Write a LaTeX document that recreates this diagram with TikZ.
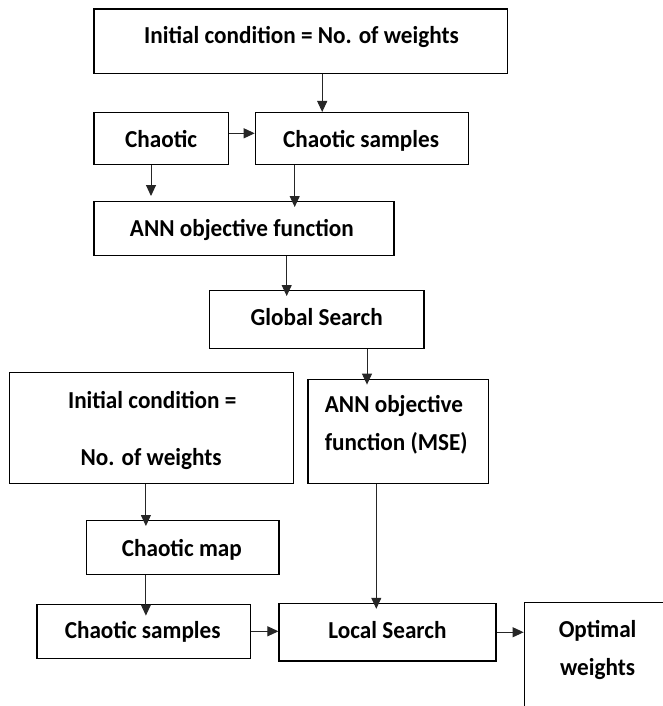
\documentclass[tikz,border=0pt]{standalone}
\usepackage{fontspec}
\setmainfont{Carlito}
\usetikzlibrary{arrows.meta,fit}
\begin{document}
\begin{tikzpicture}[x=1pt,y=-1pt,
  fbox/.style={draw, line width=1.4pt, inner sep=0pt},
  lbl/.style={font=\fontsize{23.2}{28}\selectfont\bfseries, inner sep=0pt, anchor=base,
    transform shape, yscale=1.05},
  arr/.style={draw=black!85, line width=1pt, -{Triangle[length=11pt,width=10pt]}},
  into/.style={shorten >=-6pt}]
\useasboundingbox (0,0) rectangle (663,706);
\fill[white] (0,0) rectangle (663,706);
\clip (0,0) rectangle (663,706);

% boxes
\node[fbox, fit={(93.9,9) (507.4,73.3)}] (top) {};
\node[fbox, fit={(93.9,112.7) (228.3,164.7)}] (chaotic) {};
\node[fbox, fit={(255.4,112.7) (468.5,164.7)}] (cs) {};
\node[fbox, fit={(93.9,201.7) (394.1,255.7)}] (ann) {};
\node[fbox, fit={(209.3,290.7) (424.1,348.3)}] (global) {};
\node[fbox, fit={(9.3,372.7) (293.4,483.3)}] (init) {};
\node[fbox, fit={(307.8,379.3) (488.4,483.3)}] (mse) {};
\node[fbox, fit={(86.3,520.7) (279.1,574.3)}] (map) {};
\node[fbox, fit={(36.8,604.3) (250.3,658.3)}] (cs2) {};
\node[fbox, fit={(279.1,603.5) (496,661)}] (local) {};
\node[fbox, fit={(524.3,602.3) (700,740)}] (opt) {};

% labels
\node[lbl] (t1) at (301.5,43.3) {Initial condition = No. of weights};
\node[lbl] (t2) at (161.1,147.3) {Chaotic};
\node[lbl] (t3) at (361.1,147.3) {Chaotic samples};
\node[lbl] (t4) at (241.9,236) {ANN objective function};
\node[lbl] (t5) at (316.7,325) {Global Search};
\node[lbl] (t6) at (152.2,408.3) {Initial condition =};
\node[lbl] (t7) at (151.2,465.7) {No. of weights};
\node[lbl, anchor=base west] (t8) at (324.7,412.7) {ANN objective};
\node[lbl, anchor=base west] (t9) at (324.7,450.7) {function (MSE)};
\node[lbl] (t10) at (181.8,556) {Chaotic map};
\node[lbl] (t11) at (142.7,638.3) {Chaotic samples};
\node[lbl] (t12) at (387.5,638.3) {Local Search};
\node[lbl] (t13) at (597.6,637) {Optimal};
\node[lbl] (t14) at (597.6,675) {weights};

% connector guides
\coordinate (a1) at (322.2,0);
\coordinate (y1) at (0,133.3);
\coordinate (a2) at (151,0);
\coordinate (a3) at (294.7,0);
\coordinate (a4) at (286.7,0);
\coordinate (a5) at (367,0);
\coordinate (a6) at (145.9,0);
\coordinate (a7) at (376.3,0);

% connectors
\draw[arr] (top.south -| a1) -- (cs.north -| a1);
\draw[arr] (chaotic.east |- y1) -- (cs.west |- y1);
\draw[arr, shorten >=5pt] (chaotic.south -| a2) -- (ann.north -| a2);
\draw[arr, into] (cs.south -| a3) -- (ann.north -| a3);
\draw[arr, into] (ann.south -| a4) -- (global.north -| a4);
\draw[arr, into] (global.south -| a5) -- (mse.north -| a5);
\draw[arr, into] (init.south -| a6) -- (map.north -| a6);
\draw[arr, shorten >=-12pt] (map.south -| a6) -- (cs2.north -| a6);
\draw[arr, into] (mse.south -| a7) -- (local.north -| a7);
\draw[arr] (cs2.east) -- (cs2.east -| local.west);
\draw[arr] (local.east) -- (local.east -| opt.west);
\end{tikzpicture}
\end{document}
